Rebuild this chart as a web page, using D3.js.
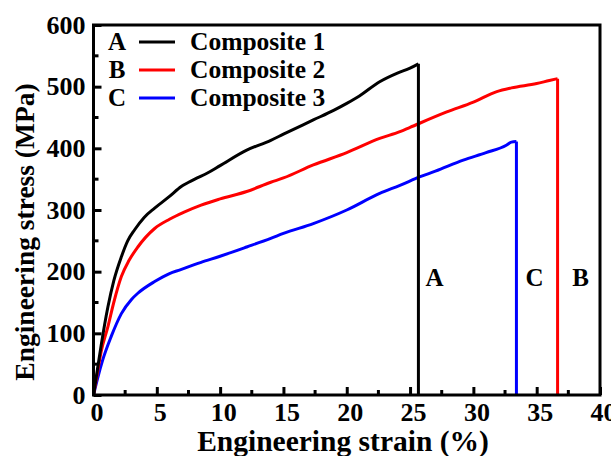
<!DOCTYPE html>
<html><head><meta charset="utf-8">
<script src="https://cdn.jsdelivr.net/npm/d3@7"></script>
<style>body{margin:0;background:#fff;} text{font-family:"Liberation Serif","Times New Roman",serif;font-weight:bold;fill:#000;}</style>
</head><body>
<svg id="chart" width="611" height="456"></svg>
<script>
const seriesNames = ["Composite 1","Composite 2","Composite 3"];
const seriesLetters = ["A","B","C"];
const seriesColors = ["#000000","#ff0000","#0000ff"];
const strainA = [0,0.3,0.6,1.14,1.6,2.2,2.7,3.25,4,4.83,6,6.93,8,9,10,12.1,14,15,17.36,19,20,21,22.6,24,25,25.66,25.66];
const stressA = [0,40,80,143,185,224,250,268,288,303,322,338,350,360,372,397,413,423,446,462,473,485,508,522,530,537,0];
const strainB = [0,0.3,0.6,1.14,1.6,2.2,2.8,3.5,4.83,6,7.2,8.5,10,12.1,14,15,17.36,20,22.6,24.2,25,27.9,30,31.85,33,35,36,36.65,36.65];
const stressB = [0,35,70,111,150,192,218,240,270,285,297,308,318,330,345,352,373,393,416,427,434,459,475,492,498,505,510,513,0];
const strainC = [0,0.36,0.7,1.4,2.2,3,3.5,4.83,6,6.84,8.5,10,12.1,14,15,17.36,20,22.6,24.2,25.8,27,29.2,31,32.6,33.0,33.4,33.4];
const stressC = [0,30,55,95,132,155,165,184,197,203,215,225,240,254,262,278,300,327,340,354,363,381,393,405,410,411,0];
const xTicks = [0,5,10,15,20,25,30,35,40];
const yTicks = [0,100,200,300,400,500,600];
const xTitle = "Engineering strain (%)";
const yTitle = "Engineering stress (MPa)";

const svg = d3.select("#chart");
const L = 93.5, R = 600, T = 25, B = 395;
const x = d3.scaleLinear().domain([0,40]).range([L,R]);
const y = d3.scaleLinear().domain([0,600]).range([B,T]);

const series = [
  {xs: strainA, ys: stressA},
  {xs: strainB, ys: stressB},
  {xs: strainC, ys: stressC}
];
const smooth = d3.line().x(d=>x(d[0])).y(d=>y(d[1])).curve(d3.curveMonotoneX);
const straight = d3.line().x(d=>x(d[0])).y(d=>y(d[1]));
[2,1,0].forEach(i=>{
  const pts = series[i].xs.map((v,j)=>[v, series[i].ys[j]]);
  const n = pts.length;
  svg.append("path").attr("d", smooth(pts.slice(0,n-1))).attr("fill","none")
    .attr("stroke", seriesColors[i]).attr("stroke-width",3).attr("stroke-linejoin","round");
  svg.append("path").attr("d", straight(pts.slice(n-2))).attr("fill","none")
    .attr("stroke", seriesColors[i]).attr("stroke-width",3);
});

// axes
const minorX = d3.range(2.5,40,5);
const minorY = d3.range(50,600,100);
const xAxis = d3.axisBottom(x).tickValues(xTicks).tickSizeInner(-8).tickSizeOuter(0).tickPadding(8);
const gx = svg.append("g").attr("transform",`translate(0,${B})`).call(xAxis);
gx.selectAll("text").attr("font-size",26).attr("dx",3).style("font-family","Liberation Serif").style("font-weight","bold");
gx.selectAll(".tick line").attr("stroke-width",3);
gx.select(".domain").remove();
gx.selectAll(".minor").data(minorX).enter().append("line")
  .attr("x1",d=>x(d)).attr("x2",d=>x(d)).attr("y1",0).attr("y2",-5).attr("stroke","#000").attr("stroke-width",3);

const yAxis = d3.axisLeft(y).tickValues(yTicks).tickSizeInner(-8).tickSizeOuter(0).tickPadding(8);
const gy = svg.append("g").attr("transform",`translate(${L},0)`).call(yAxis);
gy.selectAll("text").attr("font-size",26).style("font-family","Liberation Serif").style("font-weight","bold");
gy.selectAll(".tick line").attr("stroke-width",3);
gy.select(".domain").remove();
gy.selectAll(".minor").data(minorY).enter().append("line")
  .attr("y1",d=>y(d)).attr("y2",d=>y(d)).attr("x1",0).attr("x2",5).attr("stroke","#000").attr("stroke-width",3);

// frame
svg.append("rect").attr("x",L).attr("y",T).attr("width",R-L).attr("height",B-T)
  .attr("fill","none").attr("stroke","#000").attr("stroke-width",3);

// titles
svg.append("text").attr("x",343).attr("y",451).attr("text-anchor","middle").attr("font-size",29.5).text(xTitle);
svg.append("text").attr("transform",`translate(34,232) rotate(-90)`).attr("text-anchor","middle").attr("font-size",27.5).text(yTitle);

// legend
const leg = svg.append("g");
seriesNames.forEach((n,i)=>{
  const yy = 42 + i*28;
  leg.append("text").attr("x",117).attr("y",yy+8).attr("text-anchor","middle").attr("font-size",25).text(seriesLetters[i]);
  leg.append("line").attr("x1",139).attr("x2",175).attr("y1",yy).attr("y2",yy).attr("stroke",seriesColors[i]).attr("stroke-width",3);
  leg.append("text").attr("x",190).attr("y",yy+8).attr("font-size",25.5).text(n);
});

// fracture labels
const endX = [strainA[strainA.length-1], strainB[strainB.length-1], strainC[strainC.length-1]];
const labelOffsets = [16, 23, 18];
[0,2,1].forEach(i=>{
  svg.append("text").attr("x", x(endX[i]) + labelOffsets[i]).attr("y", 286)
    .attr("text-anchor","middle").attr("font-size",25).text(seriesLetters[i]);
});
</script>
</body></html>
